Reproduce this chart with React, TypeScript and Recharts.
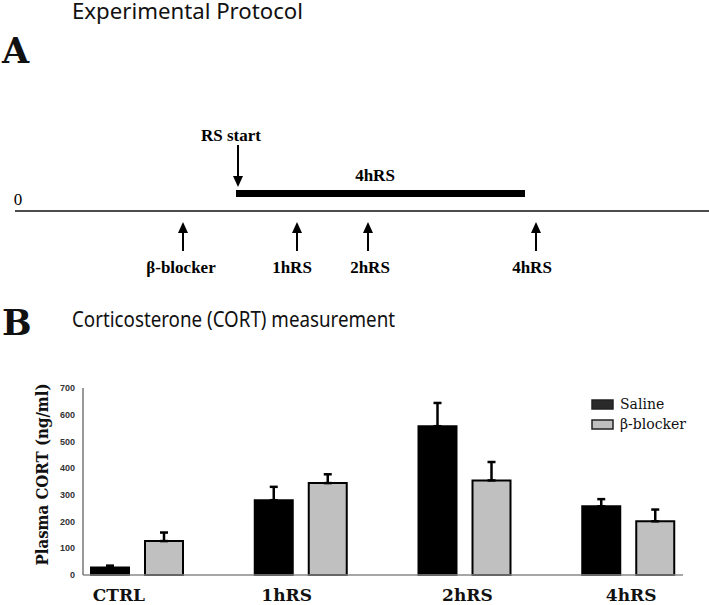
import { BarChart, Bar, XAxis, YAxis, Legend, ErrorBar, Label } from "recharts";

const categories = ["CTRL", "1hRS", "2hRS", "4hRS"];
const salineMean = [28, 280, 557, 257];
const salineSem = [7, 50, 87, 27];
const blockerMean = [127, 344, 354, 201];
const blockerSem = [32, 33, 69, 44];
const yTicks = [0, 100, 200, 300, 400, 500, 600, 700];

// protocol timeline labels (panel A)
const sampleTimes = ["β-blocker", "1hRS", "2hRS", "4hRS"];

// small horizontal nudges of the category labels, as in the original figure
const tickNudge = [-18, -14, 3, 3];

const data = categories.map((name, i) => ({
    name,
    saline: salineMean[i],
    salineErr: [0, salineSem[i]],
    blocker: blockerMean[i],
    blockerErr: [0, blockerSem[i]],
}));

const serif = "'Liberation Serif', 'Times New Roman', serif";
const wideSerif = "'DejaVu Serif', serif";

const legendItems = [
    { name: "Saline", fill: "#2a2a2a" },
    { name: "β-blocker", fill: "#c0c0c0" },
];

const CategoryTick = ({ x, y, payload, index }: any) => (
    <text
        x={x + (tickNudge[index] ?? 0)}
        y={y + 18}
        textAnchor="middle"
        fontFamily={wideSerif}
        fontWeight="bold"
        fontSize={17}
        fill="#111"
    >
        {payload.value}
    </text>
);

const LegendBox = () => (
    <svg width={118} height={50}>
        {legendItems.map((item, i) => (
            <g key={item.name}>
                <rect x={1} y={6 + i * 20} width={21} height={9} fill={item.fill} stroke="#222" strokeWidth={1.5} />
                <text x={29} y={15 + i * 20} fontFamily={wideSerif} fontSize={14} fill="#111">
                    {item.name}
                </text>
            </g>
        ))}
    </svg>
);

const YLabel = ({ viewBox }: any) => {
    const cx = viewBox.x + 42;
    const cy = viewBox.y + viewBox.height / 2 - 7;
    return (
        <text
            x={cx}
            y={cy}
            transform={`rotate(-90 ${cx} ${cy})`}
            textAnchor="middle"
            dominantBaseline="central"
            fontFamily={wideSerif}
            fontWeight="bold"
            fontSize={17}
            textLength={182}
            lengthAdjust="spacingAndGlyphs"
            fill="#111"
        >
            Plasma CORT (ng/ml)
        </text>
    );
};

const UpArrow = ({ x }: { x: number }) => (
    <g>
        <polygon points={`${x},222 ${x - 5},233 ${x + 5},233`} fill="#000" />
        <line x1={x} y1={232} x2={x} y2={251} stroke="#000" strokeWidth={2} />
    </g>
);

function Protocol() {
    const arrowX = [183, 297, 368, 536];
    const labelX = [181, 292, 370, 532];
    return (
        <svg width={709} height={340} style={{ position: "absolute", left: 0, top: 0 }}>
            <text x={72} y={19} fontFamily="'Noto Sans', sans-serif" fontSize={21} textLength={231} lengthAdjust="spacingAndGlyphs" fill="#111">
                Experimental Protocol
            </text>
            <text x={2} y={63} fontFamily={wideSerif} fontWeight="bold" fontSize={35} fill="#111">A</text>

            <text x={231} y={141} textAnchor="middle" fontFamily={serif} fontWeight="bold" fontSize={17}>RS start</text>
            <line x1={238} y1={145} x2={238} y2={177} stroke="#000" strokeWidth={2} />
            <polygon points="233,176 243,176 238,187" fill="#000" />
            <text x={375} y={181} textAnchor="middle" fontFamily={serif} fontWeight="bold" fontSize={17}>4hRS</text>
            <rect x={236} y={190} width={289} height={7} fill="#000" />

            <text x={18} y={205} textAnchor="middle" fontFamily={serif} fontSize={17}>0</text>
            <line x1={15} y1={211} x2={709} y2={211} stroke="#111" strokeWidth={1.5} />

            {sampleTimes.map((t, i) => (
                <g key={t}>
                    <UpArrow x={arrowX[i]} />
                    <text x={labelX[i]} y={273} textAnchor="middle" fontFamily={serif} fontWeight="bold" fontSize={17}>
                        {t}
                    </text>
                </g>
            ))}

            <text x={2} y={335} fontFamily={wideSerif} fontWeight="bold" fontSize={35} fill="#111">B</text>
            <text x={72} y={327} fontFamily="'Noto Sans', sans-serif" fontSize={21} textLength={323} lengthAdjust="spacingAndGlyphs" fill="#111">
                Corticosterone (CORT) measurement
            </text>
        </svg>
    );
}

export default function App() {
    return (
        <div style={{ position: "absolute", left: 0, top: 0, width: 709, height: 605, background: "#fff", overflow: "hidden" }}>
            <Protocol />
            <div style={{ position: "absolute", left: 0, top: 370 }}>
                <BarChart
                    width={709}
                    height={235}
                    data={data}
                    margin={{ top: 18, right: 26, bottom: 0, left: 0 }}
                    barSize={38}
                    barGap={16}
                >
                    <XAxis
                        dataKey="name"
                        height={30}
                        padding={{ left: -28, right: -27 }}
                        axisLine={{ stroke: "#888", strokeWidth: 1.5 }}
                        tickLine={false}
                        tick={<CategoryTick />}
                        interval={0}
                    />
                    <YAxis
                        width={83}
                        domain={[0, 700]}
                        ticks={yTicks}
                        interval={0}
                        axisLine={{ stroke: "#777", strokeWidth: 1.5 }}
                        tickLine={false}
                        tick={{ fontSize: 9, fontWeight: "bold", fontFamily: "'Liberation Sans', Arial, sans-serif", fill: "#333" }}
                    >
                        <Label content={<YLabel />} />
                    </YAxis>
                    <Legend
                        layout="vertical"
                        align="center"
                        verticalAlign="middle"
                        content={<LegendBox />}
                        wrapperStyle={{ position: "absolute", left: 591, top: 24, width: 118, lineHeight: 0 }}
                    />
                    <Bar dataKey="saline" name="Saline" fill="#000" stroke="#000" strokeWidth={2} isAnimationActive={false}>
                        <ErrorBar dataKey="salineErr" width={4} stroke="#000" strokeWidth={2.5} isAnimationActive={false} />
                    </Bar>
                    <Bar dataKey="blocker" name="β-blocker" fill="#c0c0c0" stroke="#000" strokeWidth={2} isAnimationActive={false}>
                        <ErrorBar dataKey="blockerErr" width={4} stroke="#000" strokeWidth={2.5} isAnimationActive={false} />
                    </Bar>
                </BarChart>
            </div>
        </div>
    );
}
